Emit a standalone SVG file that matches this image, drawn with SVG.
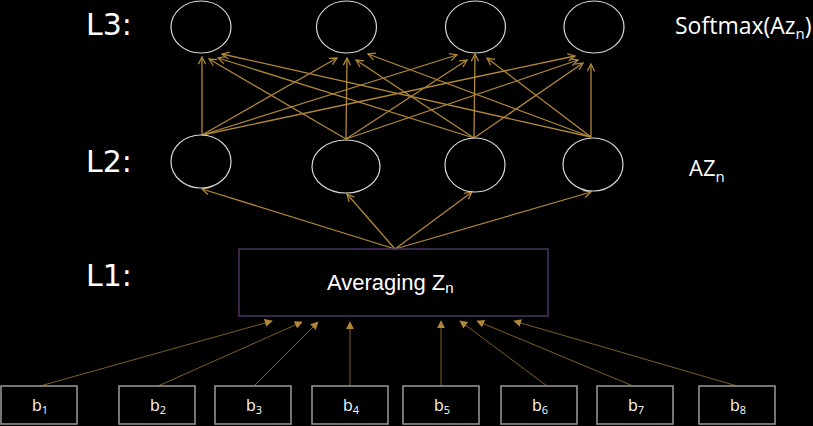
<svg xmlns="http://www.w3.org/2000/svg" width="813" height="426" viewBox="0 0 813 426">
<defs>
<style>
.bg{fill:#000}
.node{fill:none;stroke:#d8d8d8;stroke-width:1.2}
.lbl{font-family:"DejaVu Sans",sans-serif;font-size:30px;fill:#fff}
.os{font-family:"Open Sans",sans-serif;fill:#fff}
.avg{font-family:"Liberation Sans",Arial,sans-serif;font-size:22px;fill:#fff}
.box{fill:none;stroke:#9a9a9a;stroke-width:1.5}
.l1box{fill:none;stroke:#4b3263;stroke-width:1.5}
.gold{stroke:#b08838;stroke-width:1.3;fill:none;marker-end:url(#open)}
.thin{stroke:#7a5e26;stroke-width:1;fill:none;marker-end:url(#tri)}
.bt{font-size:16px;text-anchor:middle}
</style>
<marker id="open" viewBox="0 0 10 10" refX="9" refY="5" markerWidth="9" markerHeight="9" markerUnits="userSpaceOnUse" orient="auto">
<path d="M1,1 L9,5 L1,9" fill="none" stroke="#b08838" stroke-width="1.4"/>
</marker>
<marker id="tri" viewBox="0 0 10 10" refX="9" refY="5" markerWidth="8" markerHeight="8" markerUnits="userSpaceOnUse" orient="auto">
<path d="M0,0 L10,5 L0,10 Z" fill="#b08838"/>
</marker>
</defs>
<rect class="bg" x="0" y="0" width="813" height="426"/>

<text class="lbl" x="86" y="35">L3:</text>
<text class="lbl" x="86" y="172">L2:</text>
<text class="lbl" x="86" y="286">L1:</text>

<g id="connectors">
<line class="gold" x1="395" y1="249" x2="202" y2="189"/>
<line class="gold" x1="395" y1="249" x2="347" y2="194"/>
<line class="gold" x1="395" y1="249" x2="472" y2="192"/>
<line class="gold" x1="395" y1="249" x2="591" y2="192"/>

<line class="gold" x1="202" y1="135" x2="202" y2="57"/>
<line class="gold" x1="202" y1="135" x2="337" y2="58"/>
<line class="gold" x1="202" y1="135" x2="457" y2="55"/>
<line class="gold" x1="202" y1="135" x2="575" y2="56"/>

<line class="gold" x1="346" y1="139" x2="209" y2="59"/>
<line class="gold" x1="346" y1="139" x2="347" y2="58"/>
<line class="gold" x1="346" y1="139" x2="467" y2="60"/>
<line class="gold" x1="346" y1="139" x2="578" y2="60"/>

<line class="gold" x1="474" y1="138" x2="218" y2="58"/>
<line class="gold" x1="474" y1="138" x2="356" y2="60"/>
<line class="gold" x1="474" y1="138" x2="475" y2="54"/>
<line class="gold" x1="474" y1="138" x2="583" y2="63"/>

<line class="gold" x1="591" y1="137" x2="222" y2="54"/>
<line class="gold" x1="591" y1="137" x2="368" y2="54"/>
<line class="gold" x1="591" y1="137" x2="487" y2="58"/>
<line class="gold" x1="591" y1="137" x2="591" y2="64"/>

<line class="thin" x1="40" y1="386" x2="272" y2="321"/>
<line class="thin" x1="158" y1="386" x2="302" y2="322"/>
<line class="thin" x1="254" y1="386" x2="318" y2="322"/>
<line class="thin" x1="350" y1="386" x2="350" y2="322"/>
<line class="thin" x1="441" y1="386" x2="441" y2="321"/>
<line class="thin" x1="547" y1="386" x2="460" y2="321"/>
<line class="thin" x1="633" y1="386" x2="477" y2="321"/>
<line class="thin" x1="737" y1="386" x2="514" y2="321"/>
</g>

<g id="l3n1"><ellipse class="node" cx="201" cy="27" rx="30" ry="26"/></g>
<g id="l3n2"><ellipse class="node" cx="346.5" cy="27" rx="30" ry="26"/></g>
<g id="l3n3"><ellipse class="node" cx="475.5" cy="27" rx="30" ry="26"/></g>
<g id="l3n4"><ellipse class="node" cx="594" cy="27" rx="30" ry="26"/></g>

<g id="l2n1"><ellipse class="node" cx="201" cy="161.5" rx="30" ry="26.5"/></g>
<g id="l2n2"><ellipse class="node" cx="346" cy="166.5" rx="34" ry="26.5"/></g>
<g id="l2n3"><ellipse class="node" cx="475" cy="165" rx="30" ry="27"/></g>
<g id="l2n4"><ellipse class="node" cx="593" cy="164.5" rx="30" ry="26.5"/></g>

<g id="softmax"><text class="os" x="675" y="34" font-size="23">Softmax(Az<tspan font-size="15" dy="5">n</tspan><tspan dy="-5">)</tspan></text></g>
<g id="azn"><text class="os" x="689" y="176" font-size="22">AZ<tspan font-size="15" dy="6">n</tspan></text></g>

<g id="l1">
<rect class="l1box" x="239" y="249" width="309" height="67"/>
<text class="avg" x="327" y="290">Averaging Z<tspan font-size="15" dy="3">n</tspan></text>
</g>

<g id="b1"><rect class="box" x="1" y="386" width="76" height="38"/><text class="os bt" x="40" y="411">b<tspan font-size="11" dy="3">1</tspan></text></g>
<g id="b2"><rect class="box" x="119" y="386" width="76" height="38"/><text class="os bt" x="158" y="411">b<tspan font-size="11" dy="3">2</tspan></text></g>
<g id="b3"><rect class="box" x="215" y="386" width="76" height="38"/><text class="os bt" x="254" y="411">b<tspan font-size="11" dy="3">3</tspan></text></g>
<g id="b4"><rect class="box" x="312" y="386" width="76" height="38"/><text class="os bt" x="351" y="411">b<tspan font-size="11" dy="3">4</tspan></text></g>
<g id="b5"><rect class="box" x="403" y="386" width="76" height="38"/><text class="os bt" x="442" y="411">b<tspan font-size="11" dy="3">5</tspan></text></g>
<g id="b6"><rect class="box" x="501" y="386" width="76" height="38"/><text class="os bt" x="540" y="411">b<tspan font-size="11" dy="3">6</tspan></text></g>
<g id="b7"><rect class="box" x="597" y="386" width="76" height="38"/><text class="os bt" x="636" y="411">b<tspan font-size="11" dy="3">7</tspan></text></g>
<g id="b8"><rect class="box" x="699" y="386" width="76" height="38"/><text class="os bt" x="738" y="411">b<tspan font-size="11" dy="3">8</tspan></text></g>
</svg>
